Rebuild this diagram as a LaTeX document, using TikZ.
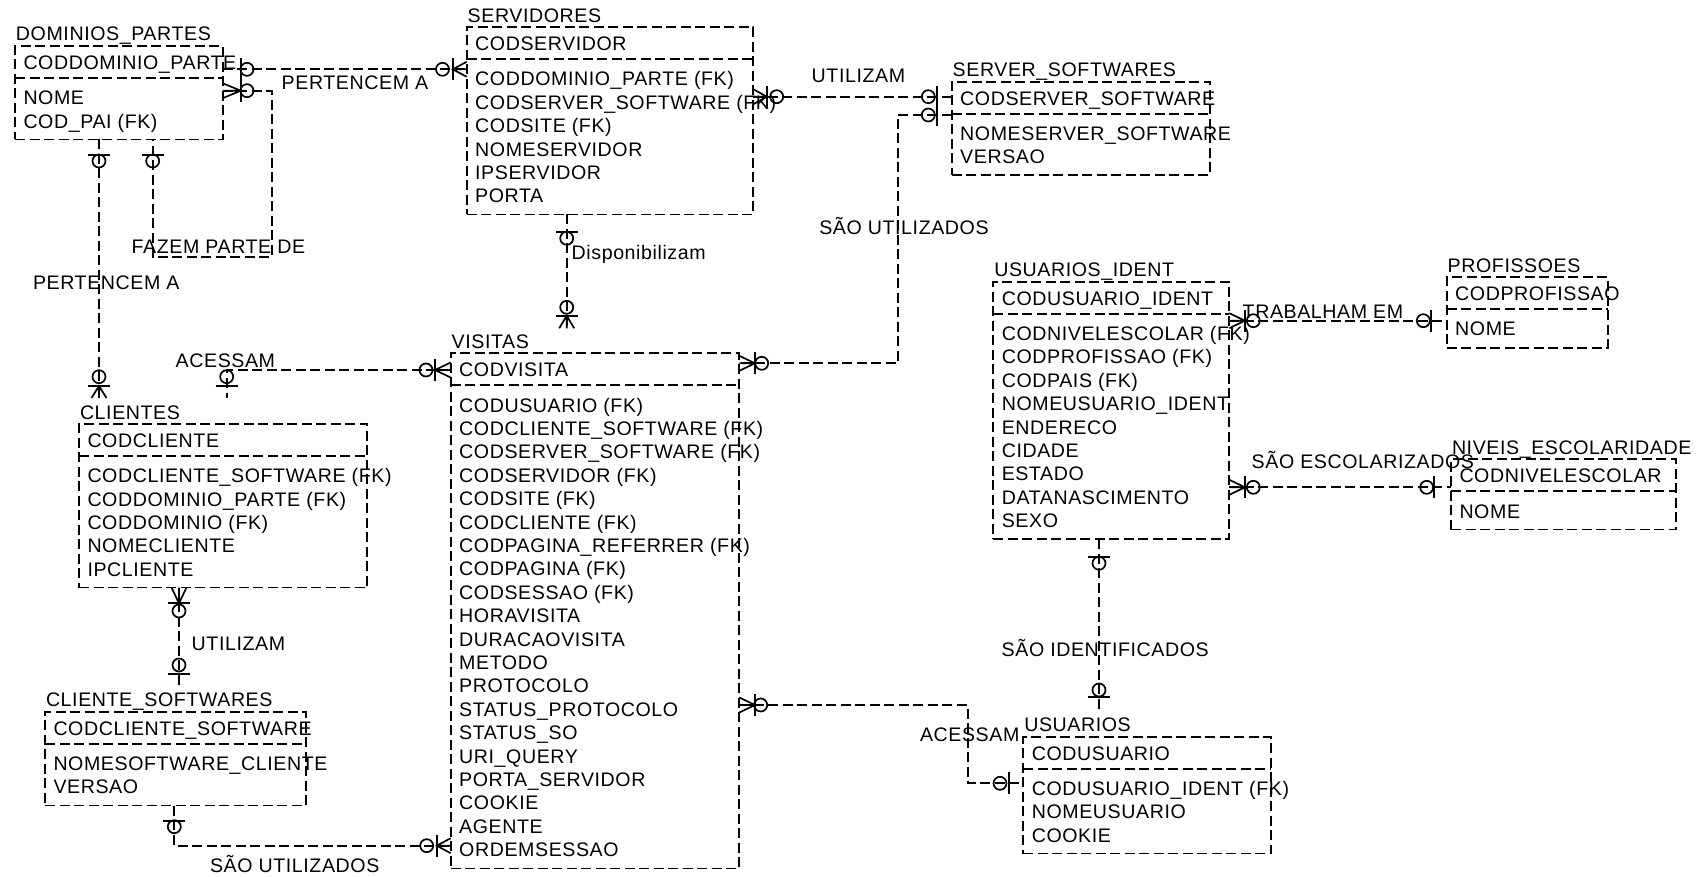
\documentclass[tikz,border=0pt]{standalone}
\usepackage{fontspec}
\setmainfont{Liberation Sans}[LetterSpace=3]
\begin{document}
\begin{tikzpicture}[x=1pt,y=1pt,
  ebox/.style={draw=black,line width=1.9pt,dash pattern=on 10pt off 4.5pt},
  econn/.style={draw=black,line width=1.9pt,dash pattern=on 10pt off 4.5pt},
  emk/.style={draw=black,line width=1.7pt},
  etxt/.style={anchor=base west,inner sep=0pt,outer sep=0pt,font=\fontsize{19.6}{23}\selectfont},
]
\useasboundingbox (0,0) rectangle (1701,-877);

\newcommand{\erent}[8]{%
  \node[ebox,inner sep=0pt,outer sep=0pt,anchor=north west,
        minimum width={(#4-#2)*1pt},minimum height={(#5-#3)*1pt}] (#1) at (#2,-#3) {};
  \node[etxt] (#1-title) at (#2+1,-#3+5) {#6};
  \draw[ebox] ([yshift=-32pt]#1.north west) -- ([yshift=-32pt]#1.north east);
  \node[etxt] (#1-key) at (#2+8.5,-#3-23.4) {#7};
  \foreach \a [count=\i] in {#8} {\node[etxt] (#1-a\i) at (#2+8.5,{-#3-58.7-23.4*(\i-1)}) {\a};}
}
\newcommand{\mbarv}[2]{\draw[emk] (#1,-#2+11) -- (#1,-#2-11);}
\newcommand{\mbarh}[2]{\draw[emk] (#1-11,-#2) -- (#1+11,-#2);}
\newcommand{\mcirc}[2]{\draw[emk] (#1,-#2) circle (6.5);}
\newcommand{\mcrowh}[3]{\draw[emk] (#1,-#3+7.5) -- (#2,-#3) -- (#1,-#3-7.5) (#1,-#3) -- (#2,-#3);}
\newcommand{\mcrowv}[3]{\draw[emk] (#1-7.5,-#2) -- (#1,-#3) -- (#1+7.5,-#2) (#1,-#2) -- (#1,-#3);}

% ---------- entities ----------
\erent{dom}{15}{46}{222.7}{139.5}{DOMINIOS\_PARTES}{CODDOMINIO\_PARTE}{NOME, COD\_PAI (FK)}
\erent{srv}{466.7}{27.3}{753.3}{214.5}{SERVIDORES}{CODSERVIDOR}{CODDOMINIO\_PARTE (FK), CODSERVER\_SOFTWARE (FK), CODSITE (FK), NOMESERVIDOR, IPSERVIDOR, PORTA}
\erent{ssw}{951.7}{81.7}{1210}{175}{SERVER\_SOFTWARES}{CODSERVER\_SOFTWARE}{NOMESERVER\_SOFTWARE, VERSAO}
\erent{cli}{79}{424}{367.3}{587.5}{CLIENTES}{CODCLIENTE}{CODCLIENTE\_SOFTWARE (FK), CODDOMINIO\_PARTE (FK), CODDOMINIO (FK), NOMECLIENTE, IPCLIENTE}
\erent{csw}{45}{711.7}{305.7}{805.5}{CLIENTE\_SOFTWARES}{CODCLIENTE\_SOFTWARE}{NOMESOFTWARE\_CLIENTE, VERSAO}
\erent{vis}{450.7}{353.3}{739.3}{868.5}{VISITAS}{CODVISITA}{CODUSUARIO (FK), CODCLIENTE\_SOFTWARE (FK), CODSERVER\_SOFTWARE (FK), CODSERVIDOR (FK), CODSITE (FK), CODCLIENTE (FK), CODPAGINA\_REFERRER (FK), CODPAGINA (FK), CODSESSAO (FK), HORAVISITA, DURACAOVISITA, METODO, PROTOCOLO, STATUS\_PROTOCOLO, STATUS\_SO, URI\_QUERY, PORTA\_SERVIDOR, COOKIE, AGENTE, ORDEMSESSAO}
\erent{uid}{993.3}{281.7}{1229.3}{539.2}{USUARIOS\_IDENT}{CODUSUARIO\_IDENT}{CODNIVELESCOLAR (FK), CODPROFISSAO (FK), CODPAIS (FK), NOMEUSUARIO\_IDENT, ENDERECO, CIDADE, ESTADO, DATANASCIMENTO, SEXO}
\erent{prf}{1446.7}{277.3}{1607.7}{347.7}{PROFISSOES}{CODPROFISSAO}{NOME}
\erent{niv}{1451}{459.3}{1675.7}{529.5}{NIVEIS\_ESCOLARIDADE}{CODNIVELESCOLAR}{NOME}
\erent{usr}{1023.3}{736.7}{1271}{853.5}{USUARIOS}{CODUSUARIO}{CODUSUARIO\_IDENT (FK), NOMEUSUARIO, COOKIE}

% ---------- connectors ----------
% 1 PERTENCEM A (dom - srv)
\draw[econn] ([yshift=-23.3pt]dom.north east) -- ([yshift=-42pt]srv.north west);
\mbarv{240.7}{69.3}\mcirc{247}{69.3}
\mcrowh{466.7}{452.7}{69.3}\mbarv{452.7}{69.3}\mcirc{442.5}{69.3}
\node[etxt] (l1) at (281.7,-90) {PERTENCEM A};
% 2 FAZEM PARTE DE (dom self)
\draw[econn] ([yshift=-44.7pt]dom.north east) -- ++(49,0) -- ++(0,-166) -| ([xshift=137.7pt]dom.south west);
\mcrowh{222.7}{240.7}{90.7}\mbarv{240.7}{90.7}\mcirc{247}{90.7}
\mbarh{152.7}{155}\mcirc{152.7}{161}
\node[etxt] (l2) at (131.7,-254) {FAZEM PARTE DE};
% 3 PERTENCEM A (dom - cli)
\draw[econn] ([xshift=84pt]dom.south west) -- ([shift={(20pt,26pt)}]cli.north west);
\mbarh{99}{155}\mcirc{99}{161}
\mcirc{99}{376.7}\mbarh{99}{386}\mcrowv{99}{398}{386}
\node[etxt] (l3) at (33,-290) {PERTENCEM A};
% 4 ACESSAM (cli - vis)
\draw[econn] ([yshift=-16.7pt]vis.north west) -| ([shift={(147.7pt,26pt)}]cli.north west);
\mcrowh{450.7}{435}{370}\mbarv{435}{370}\mcirc{426}{370}
\mcirc{226.7}{376.7}\mbarh{226.7}{386}
\node[etxt] (l4) at (175.7,-367.3) {ACESSAM};
% 5 UTILIZAM (srv - ssw)
\draw[econn] ([yshift=-69.4pt]srv.north east) -- ([yshift=-15pt]ssw.north west);
\mcrowh{753.3}{766.7}{96.7}\mbarv{766.7}{96.7}\mcirc{776.7}{96.7}
\mcirc{928.3}{96.7}\mbarv{936.7}{96.7}
\node[etxt] (l5) at (811.7,-82.7) {UTILIZAM};
% 6 SÃO UTILIZADOS (ssw - vis)
\draw[econn] ([yshift=-33.3pt]ssw.north west) -- ++(-54,0) |- ([yshift=-10pt]vis.north east);
\mbarv{936.7}{115}\mcirc{928.3}{115}
\mcrowh{739.3}{755}{363.3}\mbarv{755}{363.3}\mcirc{761.7}{363.3}
\node[etxt] (l6) at (819.3,-235) {SÃO UTILIZADOS};
% 7 Disponibilizam (srv - vis)
\draw[econn] ([xshift=100pt]srv.south west) -- ([shift={(116pt,25pt)}]vis.north west);
\mbarh{566.7}{231.7}\mcirc{566.7}{238.3}
\mcirc{566.7}{307.3}\mbarh{566.7}{315.7}\mcrowv{566.7}{328.3}{315.7}
\node[etxt] (l7) at (571.7,-259.3) {Disponibilizam};
% 8 UTILIZAM (cli - csw)
\draw[econn] ([xshift=100pt]cli.south west) -- ([shift={(134pt,26.7pt)}]csw.north west);
\mcrowv{179}{587.5}{603.3}\mbarh{179}{603.3}\mcirc{179}{611}
\mcirc{179}{665}\mbarh{179}{674}
\node[etxt] (l8) at (191.7,-650) {UTILIZAM};
% 9 SÃO UTILIZADOS (csw - vis)
\draw[econn] ([xshift=129.3pt]csw.south west) |- ([yshift=-492.4pt]vis.north west);
\mbarh{174.3}{820.7}\mcirc{174.3}{826.7}
\mcrowh{450.7}{436.7}{845.7}\mbarv{436.7}{845.7}\mcirc{426.7}{845.7}
\node[etxt] (l9) at (210,-872.7) {SÃO UTILIZADOS};
% 10 ACESSAM (vis - usr)
\draw[econn] ([yshift=-351.7pt]vis.north east) -- ++(228.4,0) |- ([yshift=-46.6pt]usr.north west);
\mcrowh{739.3}{755}{705}\mbarv{755}{705}\mcirc{760.7}{705}
\mcirc{1000}{783.3}\mbarv{1009.3}{783.3}
\node[etxt] (l10) at (920,-741.7) {ACESSAM};
% 11 SÃO IDENTIFICADOS (uid - usr)
\draw[econn] ([xshift=105.7pt]uid.south west) -- ([shift={(75.7pt,26.7pt)}]usr.north west);
\mbarh{1099}{557.3}\mcirc{1099}{563.3}
\mcirc{1099}{690}\mbarh{1099}{696.7}
\node[etxt] (l11) at (1001.7,-656) {SÃO IDENTIFICADOS};
% 12 TRABALHAM EM (uid - prf)
\draw[econn] ([yshift=-39pt]uid.north east) -- ([yshift=-43.4pt]prf.north west);
\mcrowh{1229.3}{1245}{320.7}\mbarv{1245}{320.7}\mcirc{1253.3}{320.7}
\mcirc{1423.3}{320.7}\mbarv{1431}{320.7}
\node[etxt] (l12) at (1242.7,-318.3) {TRABALHAM EM};
% 13 SÃO ESCOLARIZADOS (uid - niv)
\draw[econn] ([yshift=-205.6pt]uid.north east) -- ([yshift=-28pt]niv.north west);
\mcrowh{1229.3}{1245}{487.3}\mbarv{1245}{487.3}\mcirc{1253.3}{487.3}
\mcirc{1426.7}{487.3}\mbarv{1434}{487.3}
\node[etxt] (l13) at (1251.7,-468.3) {SÃO ESCOLARIZADOS};
\end{tikzpicture}
\end{document}
